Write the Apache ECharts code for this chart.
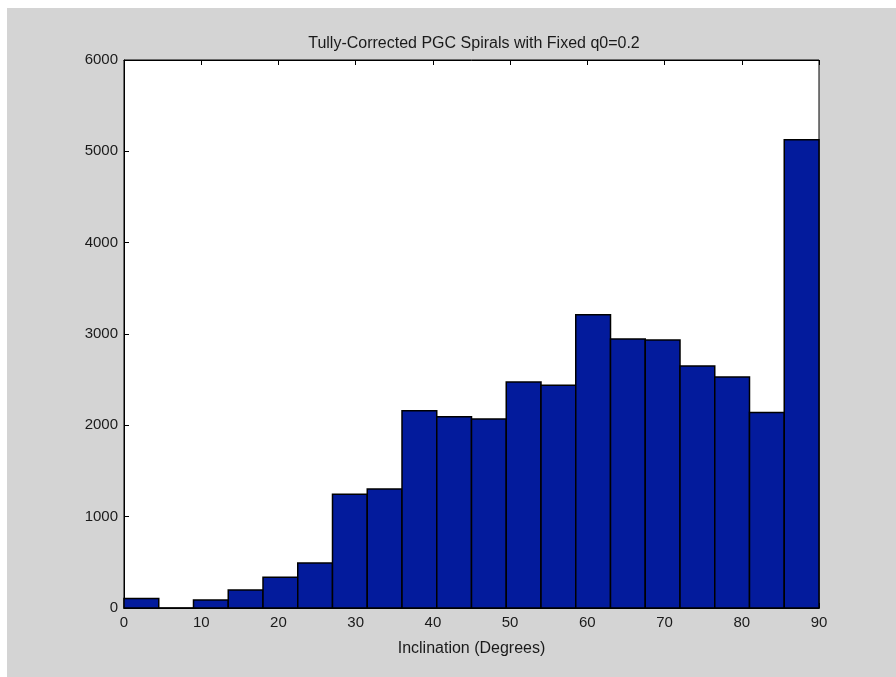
<!DOCTYPE html>
<html>
<head>
<meta charset="utf-8">
<script src="https://cdn.jsdelivr.net/npm/echarts@6/dist/echarts.min.js"></script>
<style>
  html, body { margin: 0; padding: 0; background: #ffffff; }
  #chart { position: absolute; left: 7px; top: 8px; width: 889px; height: 669px; }
</style>
</head>
<body>
<div id="chart"></div>
<script>
// Histogram of inclinations, 20 bins of 4.5 degrees
const binLeft  = [0, 4.5, 9, 13.5, 18, 22.5, 27, 31.5, 36, 40.5, 45, 49.5, 54, 58.5, 63, 67.5, 72, 76.5, 81, 85.5];
const binRight = [4.5, 9, 13.5, 18, 22.5, 27, 31.5, 36, 40.5, 45, 49.5, 54, 58.5, 63, 67.5, 72, 76.5, 81, 85.5, 90];
const counts   = [105, 0, 88, 197, 336, 493, 1245, 1303, 2161, 2095, 2068, 2475, 2440, 3210, 2946, 2935, 2650, 2530, 2140, 5126];
const xTicks   = [0, 10, 20, 30, 40, 50, 60, 70, 80, 90];
const yTicks   = [0, 1000, 2000, 3000, 4000, 5000, 6000];

const titleText = 'Tully-Corrected PGC Spirals with Fixed q0=0.2';
const xLabel = 'Inclination (Degrees)';

const fontFam = '"Liberation Sans", Arial, sans-serif';
const textCol = '#1a1a1a';

const histData = binLeft.map((l, i) => [l, binRight[i], counts[i]]);

const chart = echarts.init(document.getElementById('chart'), null, { renderer: 'canvas' });

chart.setOption({
  backgroundColor: '#d4d4d4',
  animation: false,
  title: {
    text: titleText,
    left: 462, top: 23, textAlign: 'center',
    textStyle: { fontFamily: fontFam, fontSize: 16, fontWeight: 'normal', color: textCol }
  },
  grid: {
    left: 117, right: 77, top: 52, bottom: 69,
    show: true, backgroundColor: '#ffffff', borderColor: '#000000', borderWidth: 1
  },
  xAxis: [{
    type: 'value', min: xTicks[0], max: xTicks[xTicks.length - 1], interval: 10,
    position: 'bottom',
    name: xLabel, nameLocation: 'middle', nameGap: 33,
    nameTextStyle: { fontFamily: fontFam, fontSize: 16, color: textCol },
    axisLine: { show: true, lineStyle: { color: '#000', width: 1 } },
    axisTick: { show: true, inside: true, length: 5, lineStyle: { color: '#000' } },
    axisLabel: { fontFamily: fontFam, fontSize: 15, color: textCol, margin: 7 },
    splitLine: { show: false }
  }, {
    type: 'value', min: xTicks[0], max: xTicks[xTicks.length - 1], interval: 10,
    position: 'top',
    axisLine: { show: true, lineStyle: { color: '#000', width: 1 } },
    axisTick: { show: true, inside: true, length: 5, lineStyle: { color: '#000' } },
    axisLabel: { show: false },
    splitLine: { show: false }
  }],
  yAxis: [{
    type: 'value', min: yTicks[0], max: yTicks[yTicks.length - 1], interval: 1000,
    axisLine: { show: true, lineStyle: { color: '#000', width: 1 } },
    axisTick: { show: true, inside: true, length: 5, lineStyle: { color: '#000' } },
    axisLabel: {
      fontFamily: fontFam, fontSize: 15, color: textCol, margin: 6,
      formatter: v => String(v)
    },
    splitLine: { show: false }
  }],
  series: [{
    type: 'custom',
    xAxisIndex: 0, yAxisIndex: 0,
    data: histData,
    encode: { x: [0, 1], y: 2 },
    renderItem: function (params, api) {
      const topLeft = api.coord([api.value(0), api.value(2)]);
      const botRight = api.coord([api.value(1), 0]);
      return {
        type: 'rect',
        shape: {
          x: topLeft[0], y: topLeft[1],
          width: botRight[0] - topLeft[0],
          height: botRight[1] - topLeft[1]
        },
        style: { fill: '#031b9c', stroke: '#000000', lineWidth: 1.5 }
      };
    },
    z: 2
  }]
});
</script>
</body>
</html>
